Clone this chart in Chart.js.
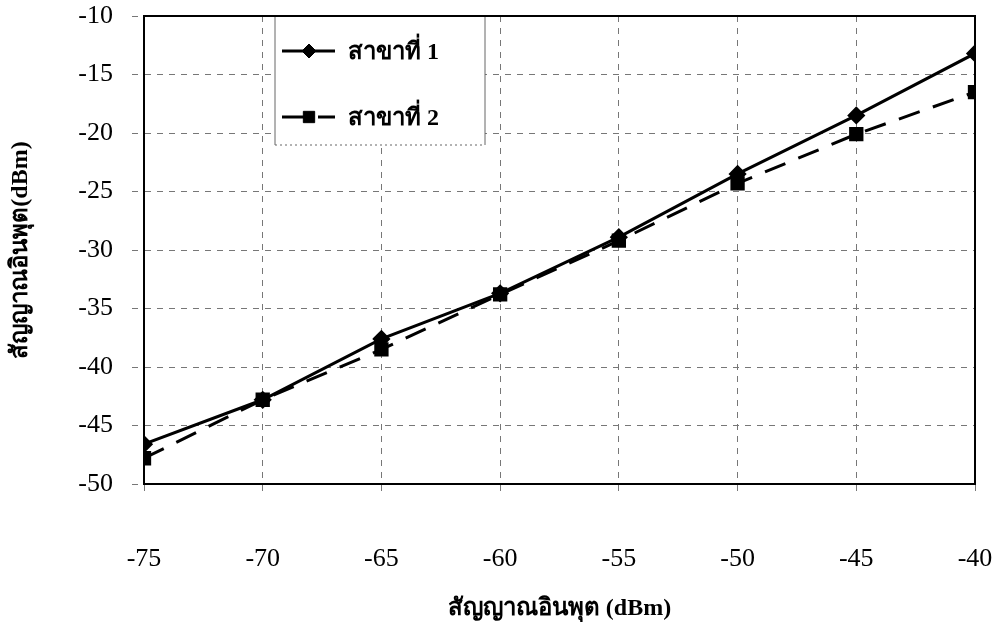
<!DOCTYPE html>
<html>
<head>
<meta charset="utf-8">
<script src="https://cdn.jsdelivr.net/npm/chart.js@4.4.0/dist/chart.umd.min.js"></script>
<style>
    html, body { margin: 0; padding: 0; background: #fff; }
    #wrap { width: 998px; height: 636px; position: relative; }
</style>
</head>
<body>
<div id="wrap"><canvas id="branchChart" width="998" height="636"></canvas></div>
<script>
// Input level (dBm) on the x axis
const inputLevels = [-75, -70, -65, -60, -55, -50, -45, -40];
// Output level for each branch (dBm)
const branch1 = [-46.6, -42.8, -37.6, -33.7, -28.9, -23.5, -18.5, -13.2];
const branch2 = [-47.8, -42.8, -38.5, -33.8, -29.2, -24.3, -20.1, -16.5];
const seriesLabels = ['สาขาที่ 1', 'สาขาที่ 2'];

const serif = '"Liberation Serif", "Times New Roman", serif';

// Border on top/right of plot + legend box drawn inside plot area
const frameAndLegend = {
    id: 'frameAndLegend',
    afterDatasetsDraw(chart) {
        const ctx = chart.ctx;
        const a = chart.chartArea;
        ctx.save();
        ctx.setLineDash([]);
        ctx.strokeStyle = '#000';
        ctx.lineWidth = 2;
        ctx.beginPath();
        ctx.moveTo(a.left, a.bottom);
        ctx.lineTo(a.left, a.top);
        ctx.lineTo(a.right, a.top);
        ctx.lineTo(a.right, a.bottom);
        ctx.lineTo(a.left, a.bottom);
        ctx.stroke();

        // legend box
        const bx = 275, by = a.top + 1, bw = 210, bh = 128;
        ctx.fillStyle = '#fff';
        ctx.fillRect(bx, by, bw, bh);
        ctx.strokeStyle = '#666';
        ctx.lineWidth = 1;
        ctx.beginPath();
        ctx.moveTo(bx, by); ctx.lineTo(bx, by + bh);
        ctx.moveTo(bx + bw, by); ctx.lineTo(bx + bw, by + bh);
        ctx.stroke();
        ctx.setLineDash([2, 3]);
        ctx.beginPath();
        ctx.moveTo(bx, by + bh); ctx.lineTo(bx + bw, by + bh);
        ctx.stroke();
        ctx.setLineDash([]);

        chart.data.datasets.forEach((ds, i) => {
            const cy = by + 34 + i * 66;
            ctx.strokeStyle = '#000';
            ctx.fillStyle = '#000';
            ctx.lineWidth = 3;
            ctx.setLineDash(ds.borderDash || []);
            ctx.beginPath();
            ctx.moveTo(bx + 7, cy);
            ctx.lineTo(bx + 60, cy);
            ctx.stroke();
            ctx.setLineDash([]);
            ctx.lineWidth = 1;
            Chart.helpers.drawPoint(ctx, {
                pointStyle: ds.pointStyle,
                radius: ds.pointRadius,
                borderWidth: 1
            }, bx + 34, cy);
            ctx.font = 'bold 24px ' + serif;
            ctx.textBaseline = 'middle';
            ctx.fillText(ds.label, bx + 73, cy + 2);
        });
        ctx.restore();
    }
};

new Chart(document.getElementById('branchChart'), {
    type: 'line',
    data: {
        datasets: [{
            label: seriesLabels[0],
            data: inputLevels.map((x, i) => ({ x: x, y: branch1[i] })),
            borderColor: '#000',
            backgroundColor: '#000',
            borderWidth: 3,
            pointStyle: 'rectRot',
            pointRadius: 7,
            pointBorderColor: '#000',
            pointBackgroundColor: '#000'
        }, {
            label: seriesLabels[1],
            data: inputLevels.map((x, i) => ({ x: x, y: branch2[i] })),
            borderColor: '#000',
            backgroundColor: '#000',
            borderWidth: 3,
            borderDash: [22, 14],
            pointStyle: 'rect',
            pointRadius: 8,
            pointBorderColor: '#000',
            pointBackgroundColor: '#000'
        }]
    },
    options: {
        responsive: false,
        animation: false,
        layout: { padding: { left: 0, right: 23, top: 16, bottom: 0 } },
        plugins: {
            legend: { display: false },
            tooltip: { enabled: false }
        },
        scales: {
            x: {
                type: 'linear',
                min: -75,
                max: -40,
                afterFit: scale => {
                    scale.height = 152;
                    scale.paddingLeft = 0;
                    scale.paddingRight = 0;
                },
                ticks: {
                    stepSize: 5,
                    padding: 50,
                    color: '#000',
                    font: { family: serif, size: 26 }
                },
                grid: {
                    color: '#777',
                    tickBorderDash: [6, 6],
                    tickLength: 10,
                    lineWidth: 1
                },
                border: { color: '#000', width: 2, dash: [6, 6] },
                title: {
                    display: true,
                    text: 'สัญญาณอินพุต (dBm)',
                    color: '#000',
                    font: { family: serif, size: 24, weight: 'bold' },
                    padding: { top: 0, bottom: 13 }
                }
            },
            y: {
                min: -50,
                max: -10,
                afterFit: scale => {
                    scale.width = 144;
                    scale.paddingTop = 0;
                    scale.paddingBottom = 0;
                },
                ticks: {
                    stepSize: 5,
                    padding: 19,
                    color: '#000',
                    font: { family: serif, size: 26 }
                },
                grid: {
                    color: '#777',
                    tickBorderDash: [6, 6],
                    tickLength: 12,
                    lineWidth: 1
                },
                border: { color: '#000', width: 2, dash: [6, 6] },
                title: {
                    display: true,
                    text: 'สัญญาณอินพุต(dBm)',
                    color: '#000',
                    font: { family: serif, size: 24, weight: 'bold' },
                    padding: { top: 6, bottom: 0 }
                }
            }
        }
    },
    plugins: [frameAndLegend]
});
</script>
</body>
</html>
